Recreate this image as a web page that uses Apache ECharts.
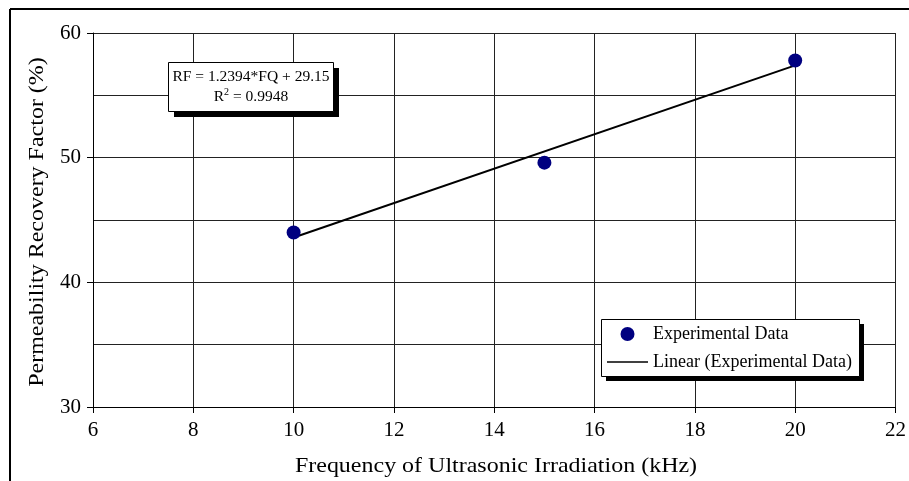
<!DOCTYPE html>
<html>
<head>
<meta charset="utf-8">
<script src="https://cdn.jsdelivr.net/npm/echarts@6/dist/echarts.min.js"></script>
<style>
  html, body { margin: 0; padding: 0; background: #fff; }
  #chart { width: 909px; height: 481px; }
</style>
</head>
<body>
<div id="chart"></div>
<script>
// Measured permeability recovery at each ultrasonic frequency
const frequencyKHz = [10, 15, 20];
const recoveryPct = [44.0, 49.6, 57.8];

// Fitted trend line end points
const trendX = [10, 20];
const trendY = [43.6, 57.4];

// Axis titles and regression annotation text
const xTitle = 'Frequency of Ultrasonic Irradiation (kHz)';
const yTitle = 'Permeability Recovery Factor (%)';
const equationText = 'RF = 1.2394*FQ + 29.15';
const r2Text = 'R{sup|2} = 0.9948';

const FONT = '"Liberation Serif", "Times New Roman", serif';

const chart = echarts.init(document.getElementById('chart'), null, { renderer: 'canvas' });

chart.setOption({
  animation: false,
  backgroundColor: '#ffffff',
  textStyle: { fontFamily: FONT, color: '#000' },
  grid: { left: 93, right: 13, top: 33, bottom: 74, containLabel: false },
  xAxis: {
    type: 'value',
    min: 6, max: 22, interval: 2,
    axisLine: { show: true, onZero: false, lineStyle: { color: '#000', width: 1 } },
    axisTick: { show: true, length: 6, inside: false, lineStyle: { color: '#000' } },
    axisLabel: { fontFamily: FONT, fontSize: 21, color: '#000', margin: 13 },
    splitLine: { show: true, lineStyle: { color: '#222', width: 1 } }
  },
  yAxis: {
    type: 'value',
    min: 30, max: 60, interval: 10,
    axisLine: { show: true, lineStyle: { color: '#000', width: 1 } },
    axisTick: { show: true, length: 6, lineStyle: { color: '#000' } },
    axisLabel: { fontFamily: FONT, fontSize: 21, color: '#000', margin: 12 },
    splitLine: { show: true, lineStyle: { color: '#222', width: 1 } },
    minorTick: { show: false, splitNumber: 2 },
    minorSplitLine: { show: true, lineStyle: { color: '#222', width: 1 } }
  },
  legend: {
    orient: 'vertical',
    left: 607, top: 325,
    itemWidth: 41, itemHeight: 14, itemGap: 10,
    padding: 0,
    z: 10,
    textStyle: { fontFamily: FONT, fontSize: 18, color: '#000' },
    data: [
      { name: 'Experimental Data', icon: 'circle' },
      { name: 'Linear (Experimental Data)', icon: 'path://M0,0L41,0L41,1.6L0,1.6Z' }
    ]
  },
  graphic: [
    // outer frame (top and left edges)
    { type: 'line', shape: { x1: 10, y1: 9, x2: 909, y2: 9 }, style: { stroke: '#000', lineWidth: 2 }, z: 1 },
    { type: 'line', shape: { x1: 10, y1: 9, x2: 10, y2: 481 }, style: { stroke: '#000', lineWidth: 2 }, z: 1 },
    // axis titles
    {
      type: 'text', x: 496, y: 466, scaleX: 1.09, z: 5,
      style: { text: xTitle, font: '22px ' + FONT, fill: '#000', align: 'center', verticalAlign: 'middle' }
    },
    {
      type: 'text', x: 37, y: 222, rotation: Math.PI / 2, scaleX: 1.09, z: 5,
      style: { text: yTitle, font: '22px ' + FONT, fill: '#000', align: 'center', verticalAlign: 'middle' }
    },
    // regression annotation box with drop shadow
    { type: 'rect', shape: { x: 174, y: 68, width: 165, height: 49 }, style: { fill: '#000' }, z: 20 },
    { type: 'rect', shape: { x: 168.5, y: 62.5, width: 165, height: 49 }, style: { fill: '#fff', stroke: '#000', lineWidth: 1 }, z: 21 },
    {
      type: 'text', x: 251, y: 77, z: 22,
      style: { text: equationText, font: '15.5px ' + FONT, fill: '#000', align: 'center', verticalAlign: 'middle' }
    },
    {
      type: 'text', x: 251, y: 97, z: 22,
      style: {
        text: r2Text, font: '15.5px ' + FONT, fill: '#000', align: 'center', verticalAlign: 'middle',
        rich: { sup: { fontSize: 10, verticalAlign: 'top', padding: [0, 0, 9, 0], fontFamily: FONT } }
      }
    },
    // legend box with drop shadow
    { type: 'rect', shape: { x: 606, y: 324, width: 258, height: 57 }, style: { fill: '#000' }, z: 8 },
    { type: 'rect', shape: { x: 601.5, y: 319.5, width: 258, height: 57 }, style: { fill: '#fff', stroke: '#000', lineWidth: 1 }, z: 9 }
  ],
  series: [
    {
      name: 'Linear (Experimental Data)',
      type: 'line',
      data: trendX.map((x, i) => [x, trendY[i]]),
      symbol: 'none',
      lineStyle: { color: '#000', width: 2 },
      itemStyle: { color: '#000' },
      z: 3
    },
    {
      name: 'Experimental Data',
      type: 'scatter',
      data: frequencyKHz.map((x, i) => [x, recoveryPct[i]]),
      symbol: 'circle',
      symbolSize: 14,
      itemStyle: { color: '#000080', opacity: 1 },
      z: 4
    }
  ]
});
</script>
</body>
</html>
